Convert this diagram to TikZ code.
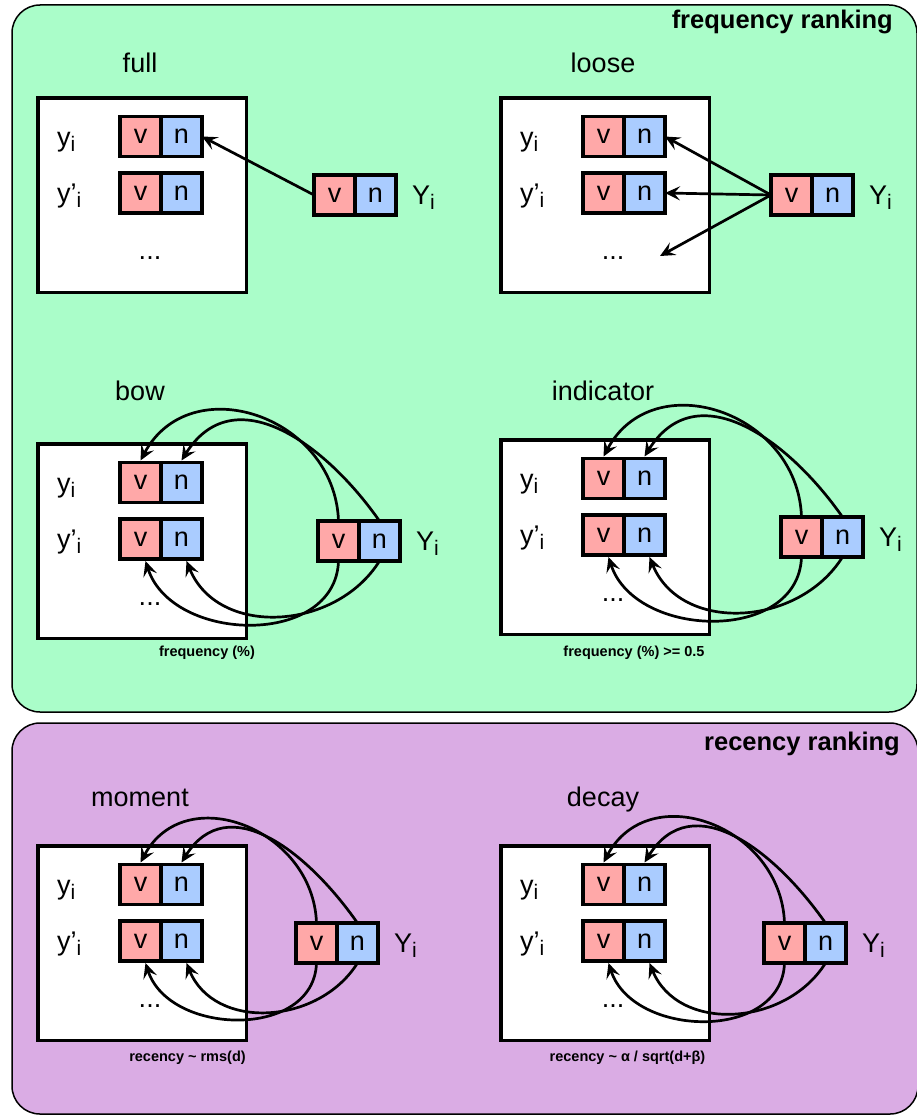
\documentclass[tikz,border=0pt]{standalone}
\usepackage{fontspec}
\setmainfont{Liberation Sans}
\usetikzlibrary{positioning, arrows.meta}
\definecolor{freqgreen}{RGB}{170,253,201}
\definecolor{recpurple}{RGB}{218,172,228}
\definecolor{valred}{RGB}{255,168,168}
\definecolor{cntblue}{RGB}{170,204,255}
\newcommand{\idx}{\raisebox{-5pt}{\fontsize{21}{21}\selectfont i}}
\tikzset{
node distance=0pt, % the two cells of a record touch
panel/.style={draw, line width=1.5pt, rounded corners=28pt}, % the two coloured groups
store/.style={draw, fill=white, line width=3.5pt, inner sep=0pt, outer sep=0pt, minimum width=208.5pt, minimum height=194.5pt, anchor=north west},
cell/.style={draw, line width=3.8pt, minimum width=41pt, minimum height=40pt, inner sep=0pt, outer sep=0pt, font=\fontsize{27}{30}\selectfont},
vcell/.style={cell, fill=valred},
ncell/.style={cell, fill=cntblue},
lbl/.style={font=\fontsize{27}{30}\selectfont, inner sep=0pt},
note/.style={font=\bfseries\fontsize{14.5}{17}\selectfont, inner sep=0pt},
heading/.style={font=\bfseries\fontsize{25.5}{30}\selectfont, inner sep=0pt, anchor=base east},
arr/.style={-{Stealth[length=15pt, width=14pt, inset=6pt]}, line width=2.7pt}, % the update arrows
}

\begin{document}
\begin{tikzpicture}[x=1pt, y=1pt]
\useasboundingbox (0,0) rectangle (916,-1116);

\draw[panel, fill=freqgreen] (12,-5) rectangle (917,-712);
\draw[panel, fill=recpurple] (12,-723) rectangle (918,-1114);
\node[heading] (freq-head) at (893,-29) {frequency ranking};
\node[heading] (rec-head) at (900,-750) {recency ranking};

\foreach \p/\bx/\by/\qx/\ty in {full/36/96/277/72, loose/499/96/271/72, bow/36/442/281/400, indicator/499/438/281/400, moment/36/844/259/806, decay/499/844/264/806} {
  \node[lbl, anchor=base] (\p-title) at (\bx+104,-\ty) {\p};
  \node[store] (\p-box) at (\bx+1.75,-\by-1.75) {};
  \node[vcell] (\p-yv) at (\bx+104.5,-\by-40.5) {v};
  \node[ncell, right=of \p-yv] (\p-yn) {n};
  \node[vcell] (\p-zv) at (\bx+104.5,-\by-97) {v};
  \node[ncell, right=of \p-zv] (\p-zn) {n};
  \node[vcell] (\p-Yv) at (\bx+\qx+21.5,-\by-99) {v};
  \node[ncell, right=of \p-Yv] (\p-Yn) {n};
  \node[lbl, anchor=base west] (\p-ylbl) at (\bx+21,-\by-50) {y\idx};
  \node[lbl, anchor=base west] (\p-zlbl) at (\bx+21,-\by-106) {y'\idx};
  \node[lbl, anchor=base west] (\p-Ylbl) at ([xshift=16pt, yshift=-9pt]\p-Yn.east) {Y\idx};
  \node[lbl] (\p-more) at (\bx+114,-\by-162) {...};
}

\node[note] (bow-note) at (207,-653) {frequency (\%)};
\node[note] (indicator-note) at (634,-653) {frequency (\%) >= 0.5};
\node[note] (moment-note) at (187.5,-1058) {recency \textasciitilde{} rms(d)};
\node[note] (decay-note) at (627.5,-1058) {recency \textasciitilde{} α / sqrt(d+β)};

\draw[arr] (full-Yv.west) -- (full-yn.east);

\coordinate (loose-dots) at (660,-256);
\draw[arr] (loose-Yv.west) -- (loose-yn.east);
\draw[arr] (loose-Yv.west) -- (loose-zn.east);
\draw[arr] (loose-Yv.west) -- (loose-dots);

\foreach \p in {bow, indicator, moment, decay} {
  \draw[arr] (\p-Yv.north) to[out=92, in=62, looseness=1.3] ([yshift=2pt]\p-yv.north);
  \draw[arr] (\p-Yn.north) to[out=125, in=58, looseness=1.2] ([yshift=2pt]\p-yn.north);
  \draw[arr] (\p-Yv.south) to[out=-92, in=-72, looseness=1.15] ([xshift=5pt, yshift=-2pt]\p-zv.south);
  \draw[arr] (\p-Yn.south) to[out=-122, in=-68, looseness=1.1] ([xshift=5pt, yshift=-2pt]\p-zn.south);
}
\end{tikzpicture}
\end{document}
